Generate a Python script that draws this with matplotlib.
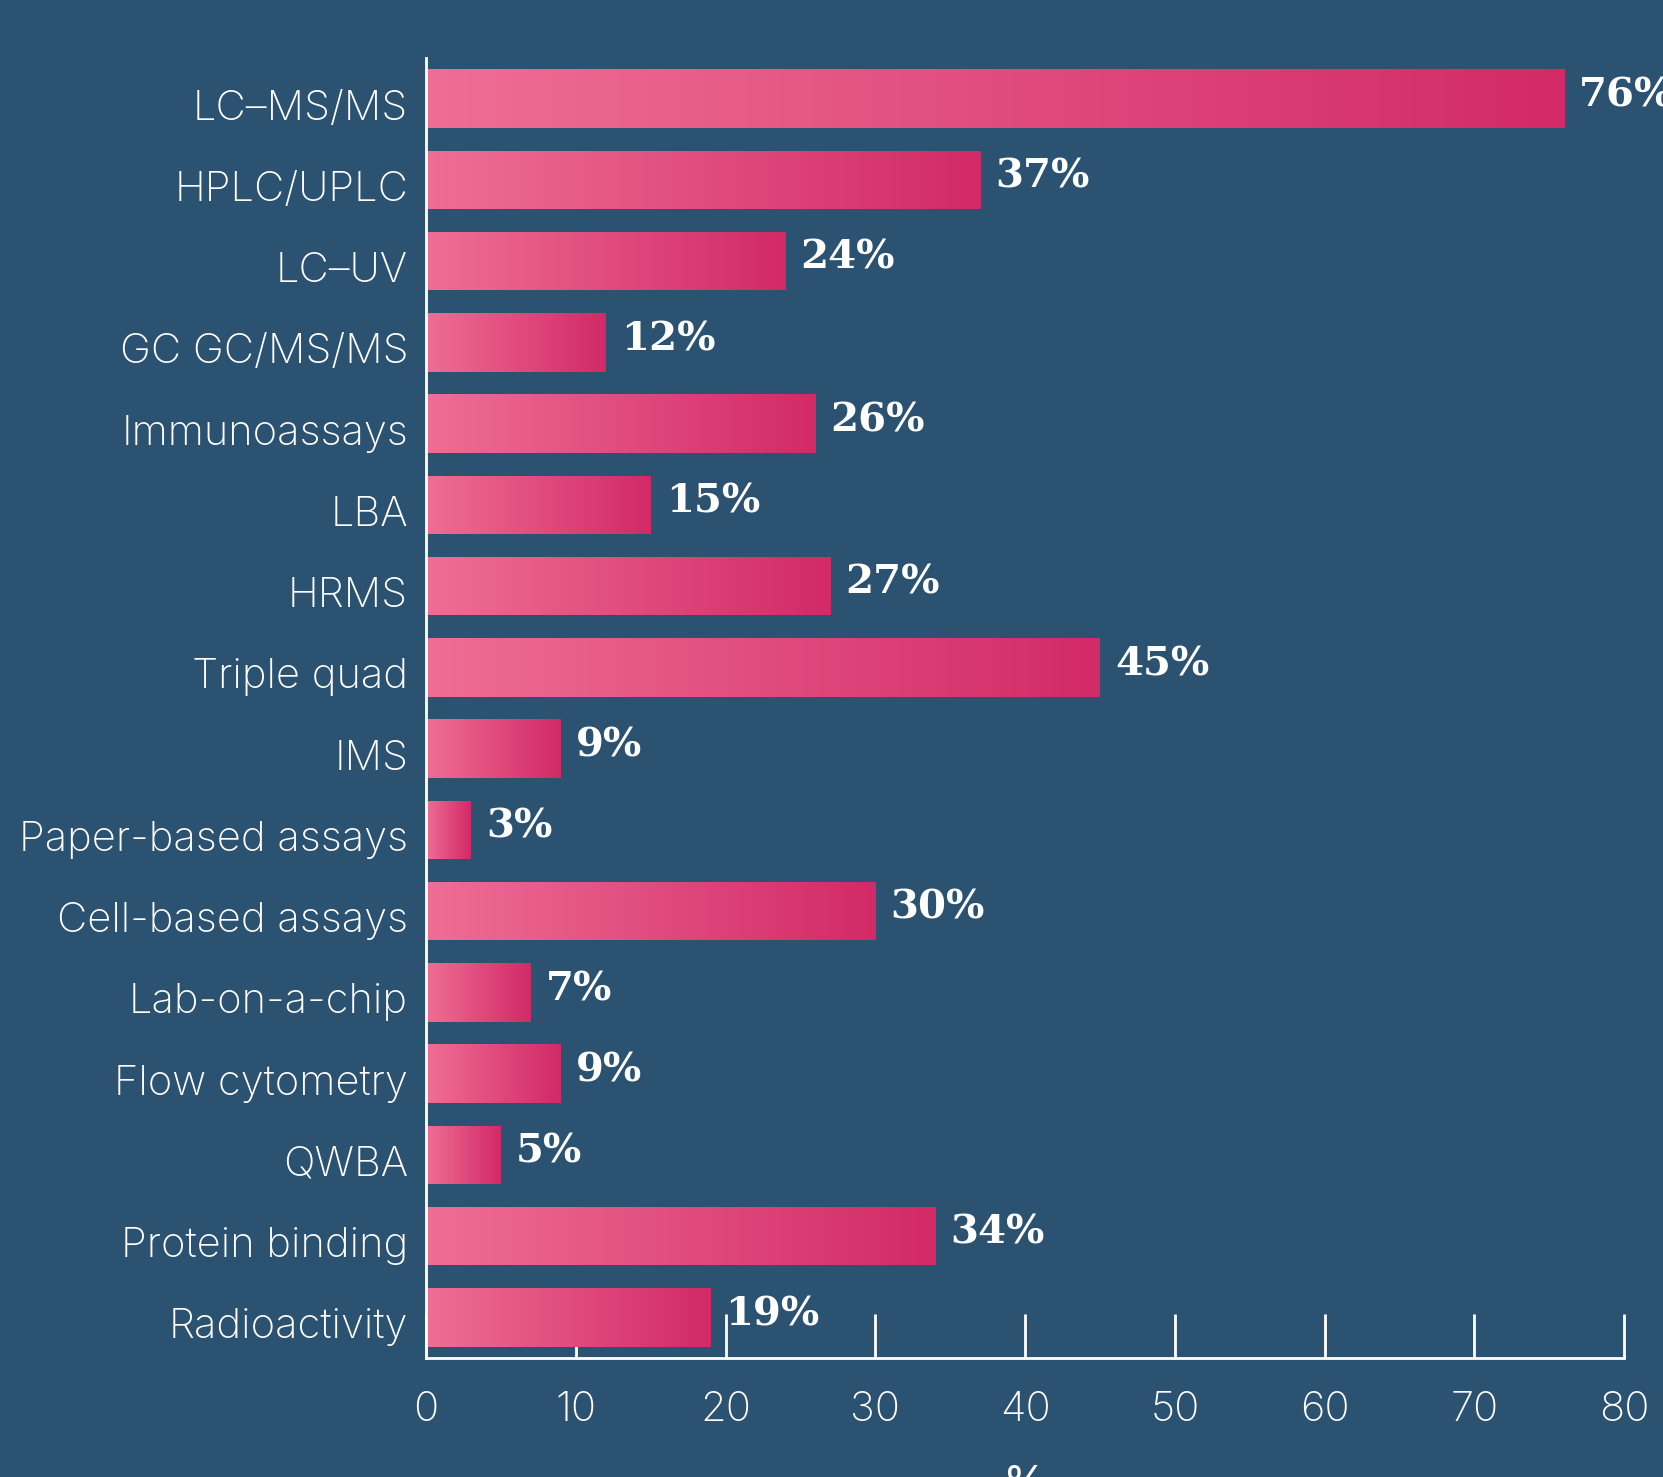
import numpy as np
import matplotlib
matplotlib.use("Agg")
import matplotlib.pyplot as plt
import matplotlib.transforms as mtrans
from matplotlib.colors import LinearSegmentedColormap

categories = ["LC\u2013MS/MS", "HPLC/UPLC", "LC\u2013UV", "GC GC/MS/MS", "Immunoassays", "LBA",
              "HRMS", "Triple quad", "IMS", "Paper-based assays", "Cell-based assays",
              "Lab-on-a-chip", "Flow cytometry", "QWBA", "Protein binding", "Radioactivity"]
values = [76, 37, 24, 12, 26, 15, 27, 45, 9, 3, 30, 7, 9, 5, 34, 19]
xticks = [0, 10, 20, 30, 40, 50, 60, 70, 80]

BG = "#2C5272"
cmap = LinearSegmentedColormap.from_list("pk", ["#EF6E95", "#D22A67"])

fig = plt.figure(figsize=(16.63, 14.77), dpi=100)
fig.patch.set_facecolor(BG)
ax = fig.add_axes([0.2562, 0.0806, 0.7204, 0.8801])
ax.set_facecolor(BG)

y = np.arange(len(categories))
h = 0.72
bars = ax.barh(y, values, height=h, color="none", edgecolor="none")
grad = np.linspace(0, 1, 256).reshape(1, -1)
for b, v, yi in zip(bars, values, y):
    im = ax.imshow(grad, cmap=cmap, aspect="auto",
                   extent=[0, v, yi + h / 2, yi - h / 2], zorder=2)
    im.set_clip_path(b)
    ax.text(v + 1.0, yi - 0.04, f"{v}%", color="white", fontsize=29,
            fontweight="bold", family="DejaVu Serif", va="center", ha="left",
            clip_on=False, zorder=3)

ax.set_xlim(0, 80)
ax.set_ylim(15.5, -0.5)
ax.set_yticks(y)
ax.set_yticklabels(categories)
ax.set_xticks(xticks)

for s in ["top", "right"]:
    ax.spines[s].set_visible(False)
for s in ["left", "bottom"]:
    ax.spines[s].set_color("white")
    ax.spines[s].set_linewidth(2)

ax.tick_params(axis="y", length=0, pad=13, labelsize=30, labelcolor="white")
ax.tick_params(axis="x", direction="in", length=32, width=2, color="white",
               pad=24, labelsize=30, labelcolor="white")
for lab in ax.get_yticklabels() + ax.get_xticklabels():
    lab.set_family("Inter")
    lab.set_fontweight("light")
shift = mtrans.ScaledTranslation(0, -6 / 100, fig.dpi_scale_trans)
for lab in ax.get_yticklabels():
    lab.set_transform(lab.get_transform() + shift)

ax.set_xlabel("%", color="white", fontsize=32, family="Inter", labelpad=25)

fig.savefig("out.png", dpi=100, facecolor=BG)
